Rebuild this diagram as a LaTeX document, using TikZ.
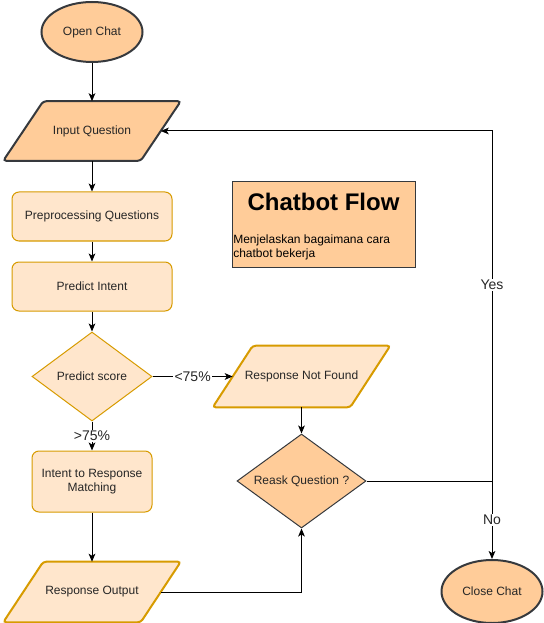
\documentclass[tikz,border=0pt]{standalone}
\usepackage{fontspec}
\setmainfont{Liberation Sans}
\usetikzlibrary{shapes.geometric,arrows.meta,calc,backgrounds}
\definecolor{darkfill}{HTML}{FFCC99}
\definecolor{lightfill}{HTML}{FFE6CC}
\definecolor{goldline}{HTML}{D79B00}
\definecolor{darkline}{HTML}{36393D}
\definecolor{txt}{HTML}{262626}
\newcommand\pxu{0.75pt}
\tikzset{
  base/.style={align=center, text=txt, font=\fontsize{9}{10.5}\selectfont, inner sep=1pt},
  term/.style={base, ellipse, draw=darkline, line width=1.5pt, fill=darkfill, minimum width=101*\pxu, minimum height=60*\pxu},
  iobody/.style={base, rectangle, minimum width=137*\pxu, minimum height=59*\pxu},
  iodarkshape/.style={draw=darkline, line width=1.5pt, fill=darkfill, rounded corners=3*\pxu},
  iolightshape/.style={draw=goldline, line width=1.5pt, fill=lightfill, rounded corners=3*\pxu},
  procbox/.style={base, rectangle, rounded corners=7*\pxu, draw=goldline, line width=0.75pt, fill=lightfill, minimum width=160*\pxu, minimum height=49*\pxu},
  decision/.style={base, diamond, aspect=1.35, draw=goldline, line width=0.75pt, fill=lightfill, inner sep=0pt},
  arr/.style={line width=0.75pt, -{Stealth[length=6pt,width=5pt,inset=1.5pt]}},
  lnk/.style={line width=0.75pt},
  lbl/.style={fill=white, text=txt, font=\fontsize{10.5}{12}\selectfont, inner sep=1pt},
}
\newcommand\parabox[2]{%
  \draw[#2] ($(#1.south west)+(-20,0)$) -- ($(#1.north west)+(20,0)$) -- ($(#1.north east)+(20,0)$) -- ($(#1.south east)+(-20,0)$) -- cycle;}
\begin{document}
\begin{tikzpicture}[x=0.75pt,y=-0.75pt]
\useasboundingbox (0,0) rectangle (543,623);

\node[term] (open) at (92,32) {Open Chat};
\node[iobody] (input) at (92,131) {Input Question};
\node[procbox] (prep) at (92,216.5) {Preprocessing Questions};
\node[procbox] (intent) at (92,286.5) {Predict Intent};
\node[decision, minimum width=120*\pxu, minimum height=89*\pxu] (score) at (92,376.5) {Predict score};
\node[procbox, minimum width=120*\pxu, minimum height=61*\pxu] (match) at (92,481.5) {Intent to Response\\Matching};
\node[iobody, minimum height=60*\pxu] (output) at (92,592) {Response Output};
\node[iobody, minimum height=61*\pxu] (rnf) at (301.5,376.5) {Response Not Found};
\node[decision, draw=darkline, fill=darkfill, minimum width=129*\pxu, minimum height=94*\pxu, aspect=1.37] (reask) at (301.5,481) {Reask Question ?};
\node[term, minimum height=63*\pxu] (close) at (492,591.5) {Close Chat};

\begin{scope}[on background layer]
  \parabox{input}{iodarkshape}
  \parabox{output}{iolightshape}
  \parabox{rnf}{iolightshape}
\end{scope}

\node[draw=darkline, line width=0.75pt, fill=darkfill, minimum width=183*\pxu, minimum height=85*\pxu, inner sep=0pt] (info) at (323.5,224.5) {};
\node[font=\bfseries\fontsize{18}{21}\selectfont, text=black] (title) at (323.5,202) {Chatbot Flow};
\node[base, align=left, anchor=west, font=\fontsize{9}{10.5}\selectfont, text=black, inner sep=0pt] (desc) at (233,247) {Menjelaskan bagaimana cara\\chatbot bekerja};

\coordinate (J) at (492,481);

\draw[arr] (open) -- (input);
\draw[arr] (input) -- (prep);
\draw[arr] (prep) -- (intent);
\draw[arr] (intent) -- (score);
\draw[arr] (score) -- node[lbl, pos=0.5] {>75\%} (match);
\draw[arr] (match) -- (output);
\draw[arr] (score) -- node[lbl, pos=0.5] {<75\%} (rnf);
\draw[arr] (output.east) -| (reask.south);
\draw[arr] (rnf) -- (reask);
\draw[lnk] (reask.east) -- (J);
\draw[arr] (J) |- node[lbl, pos=0.28] {Yes} (input.east);
\draw[arr] (J) -- node[lbl, pos=0.5] {No} (close);
\end{tikzpicture}
\end{document}
